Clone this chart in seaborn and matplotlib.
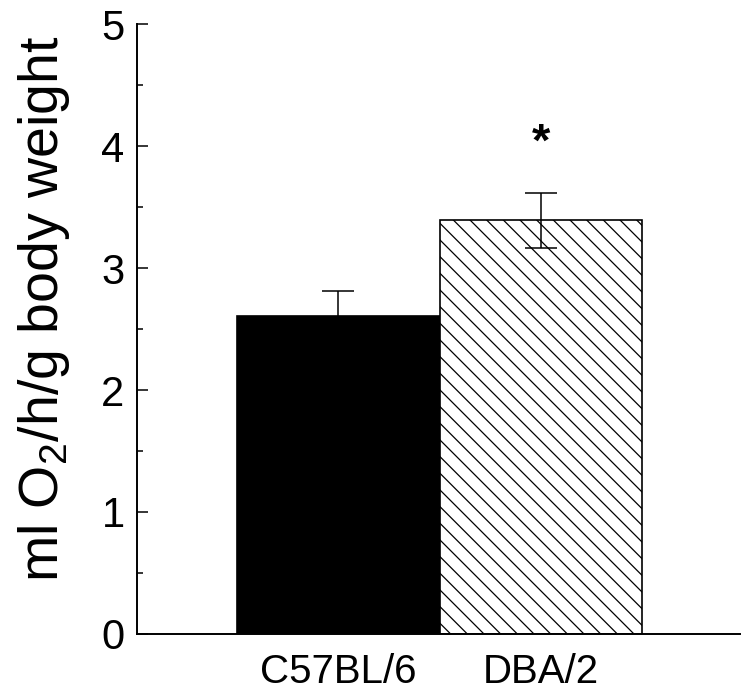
import matplotlib
matplotlib.use("Agg")
import matplotlib.pyplot as plt
from matplotlib.ticker import MultipleLocator
import seaborn as sns
import pandas as pd

# data
strains = ["C57BL/6", "DBA/2"]
means = [2.61, 3.39]
sem = [0.20, 0.225]
star_y = 4.02

sns.set_theme(style="ticks")
plt.rcParams['font.family'] = ['Liberation Sans', 'DejaVu Sans']
plt.rcParams['mathtext.fontset'] = 'custom'
plt.rcParams['mathtext.rm'] = 'Liberation Sans'
plt.rcParams['hatch.linewidth'] = 0.9
plt.rcParams['text.color'] = 'black'
plt.rcParams['axes.labelcolor'] = 'black'
plt.rcParams['xtick.color'] = 'black'
plt.rcParams['ytick.color'] = 'black'

df = pd.DataFrame({"strain": strains, "o2": means})

fig = plt.figure(figsize=(7.5, 6.98), dpi=100)
ax = fig.add_axes([0.1827, 0.0917, 0.804, 0.8739])

sns.barplot(data=df, x="strain", y="o2", hue="strain", palette=["black", "white"],
            width=1.0, edgecolor="black", linewidth=1.2, errorbar=None,
            legend=False, ax=ax)
ax.patches[1].set_hatch("\\\\")

ax.errorbar(range(len(strains)), means, yerr=sem, fmt="none", ecolor="black",
            elinewidth=1.1, capsize=11.5, capthick=1.1)

ax.text(1, star_y, "*", ha="center", va="center", fontsize=34, fontweight="bold")

ax.set_xlim(-0.995, 1.985)
ax.set_ylim(0, 5)
ax.yaxis.set_major_locator(MultipleLocator(1))
ax.yaxis.set_minor_locator(MultipleLocator(0.5))
ax.tick_params(axis="y", which="major", direction="in", length=8, width=1.1,
               labelsize=30, pad=9)
ax.tick_params(axis="y", which="minor", direction="in", length=4.3, width=1.1)
ax.tick_params(axis="x", length=0, labelsize=29, pad=14)

ax.set_xlabel("")
ax.set_ylabel(r"ml O$_\mathregular{2}$/h/g body weight", fontsize=40)
ax.yaxis.set_label_coords(-0.108, 0.533)

sns.despine(ax=ax)
for side in ["left", "bottom"]:
    ax.spines[side].set_linewidth(1.4)
    ax.spines[side].set_color("black")

fig.savefig("out.png", dpi=100)
